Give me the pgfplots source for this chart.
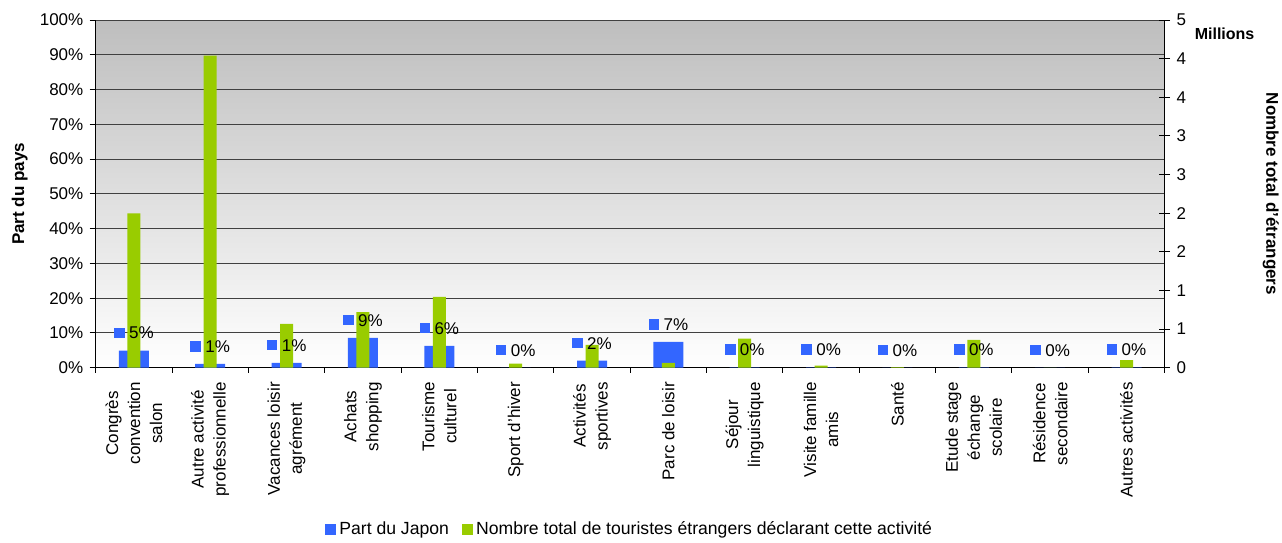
\documentclass[border=0pt]{standalone}
\usepackage{pgfplots}
\pgfplotsset{compat=1.18}
\usepackage{fontspec}
\setmainfont{Liberation Sans}
\definecolor{jblue}{RGB}{51,102,255}
\definecolor{jgreen}{RGB}{153,204,0}
\definecolor{bgtop}{RGB}{190,190,190}
\pgfplotsset{
  base/.style={
    at={(47.85pt,87.15pt)}, anchor=south west, scale only axis,
    width=534.5pt, height=173.8pt, xmin=-0.5, xmax=13.5,
    /pgf/number format/assume math mode=true,
  },
  sqlegend/.style={legend image code/.code={\fill[##1] (0pt,-2.75pt) rectangle (5.5pt,2.75pt);}},
}
\begin{document}
\begin{tikzpicture}[font=\fontsize{8.5}{11}\selectfont]
\useasboundingbox (0,0) rectangle (641pt,271pt);
% left axis: share of Japan
\begin{axis}[base, ymin=0, ymax=100,
  axis x line*=bottom, axis y line*=left,
  axis line style={black, line width=0.5pt},
  axis background/.style={top color=bgtop, bottom color=white},
  ytick={0,10,...,100},
  yticklabels={0\%,10\%,20\%,30\%,40\%,50\%,60\%,70\%,80\%,90\%,100\%},
  ymajorgrids, grid style={black!75, line width=0.5pt},
  xtick={0,...,13},
  xticklabels={Congrès\\convention\\salon, Autre activité\\professionnelle, Vacances loisir\\agrément, Achats\\shopping, Tourisme\\culturel, Sport d'hiver, Activités\\sportives, Parc de loisir, Séjour\\linguistique, Visite famille\\amis, Santé, Etude stage\\échange\\scolaire, Résidence\\secondaire, Autres activités},
  minor xtick={-0.5,0.5,...,13.5},
  major x tick style={draw=none},
  tick align=outside, major tick length=3pt, minor tick length=2.5pt,
  tick style={black, line width=0.5pt},
  xticklabel style={rotate=90, anchor=east, align=center, inner sep=0pt},
  xticklabel shift=4pt,
  yticklabel style={inner sep=0pt},
  yticklabel shift=3pt,
  ylabel={\bfseries Part du pays},
  ylabel style={at={(axis description cs:-0.071,0.5)}, anchor=center},
]
\addplot[ybar, bar width=15pt, bar shift=0pt, fill=jblue, draw=none] coordinates {
  (0,4.9) (1,1.1) (2,1.4) (3,8.6) (4,6.3) (5,0) (6,2.0) (7,7.4) (8,0.1) (9,0.1) (10,0) (11,0.1) (12,0) (13,0.1)
};
\end{axis}
% right axis: total foreign tourists (millions)
\begin{axis}[base, ymin=0, ymax=5, clip=false,
  axis y line*=right, axis x line=none,
  axis line style={black, line width=0.5pt},
  ytick={0,0.5556,1.1111,1.6667,2.2222,2.7778,3.3333,3.8889,4.4444,5},
  yticklabels={0,1,1,2,2,3,3,4,4,5},
  tick align=center, major tick length=5.5pt,
  tick style={black, line width=0.5pt},
  yticklabel style={inner sep=0pt},
  yticklabel shift=3pt,
  ylabel={\bfseries Nombre total d'étrangers},
  ylabel style={at={(axis description cs:1.0993,0.5)}, anchor=center, rotate=180},
  legend style={at={(axis description cs:0.5,-0.4655)}, anchor=center, draw=none, fill=none,
    legend columns=-1, inner sep=0pt, font=\fontsize{8.8}{11}\selectfont,
    nodes={inner sep=1pt, inner xsep=1.8pt},
    /tikz/every even column/.append style={column sep=4.5pt}},
]
\addlegendimage{fill=jblue, draw=none, sqlegend}
\addlegendentry{Part du Japon}
\addplot[ybar, bar width=6.5pt, bar shift=0pt, fill=jgreen, draw=none, sqlegend] coordinates {
  (0,2.22) (1,4.49) (2,0.63) (3,0.80) (4,1.02) (5,0.06) (6,0.33) (7,0.07) (8,0.42) (9,0.03) (10,0.01) (11,0.40) (12,0) (13,0.11)
};
\addlegendentry{Nombre total de touristes étrangers déclarant cette activité}
\node[font=\fontsize{8}{10}\selectfont\bfseries] at (rel axis cs:1.056,0.96) {Millions};
\end{axis}
% data labels for share of Japan
\begin{axis}[base, ymin=0, ymax=100, hide axis]
\addplot[draw=none, mark=none, point meta=y,
  nodes near coords={\textcolor{jblue}{\raisebox{0.35pt}{\rule{5.3pt}{5.3pt}}}\hspace{2.2pt}\pgfmathprintnumber[fixed,precision=0,assume math mode=true]{\pgfplotspointmeta}\%},
  nodes near coords style={anchor=center, yshift=8.75pt, inner sep=0pt, text=black}]
  coordinates {
  (0,4.9) (1,1.1) (2,1.4) (3,8.6) (4,6.3) (5,0) (6,2.0) (7,7.4) (8,0.1) (9,0.1) (10,0) (11,0.1) (12,0) (13,0.1)
};
\end{axis}
\end{tikzpicture}
\end{document}
